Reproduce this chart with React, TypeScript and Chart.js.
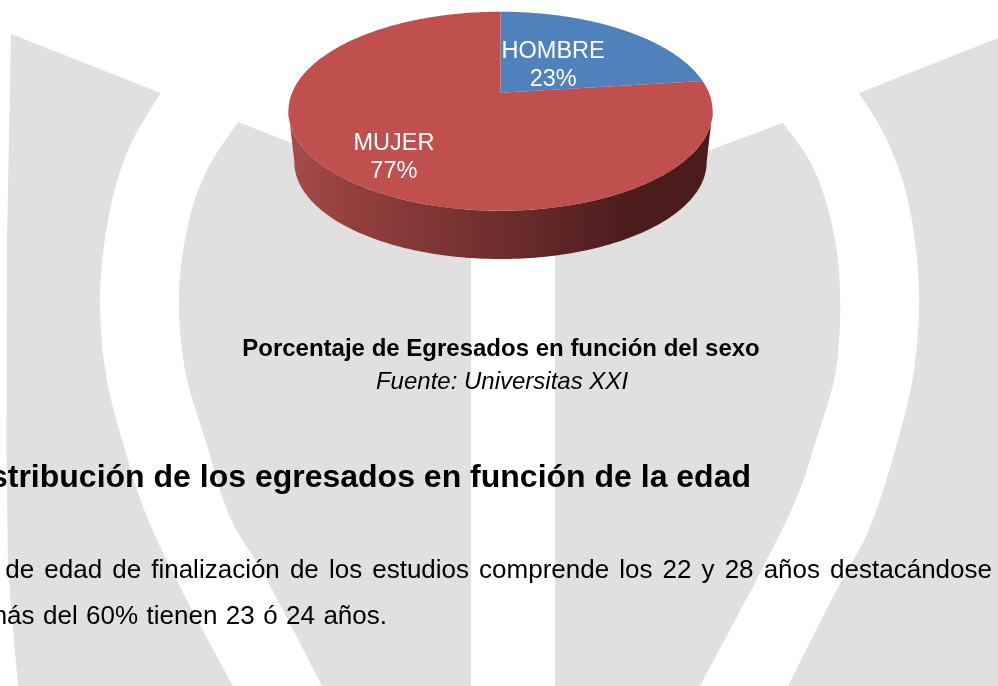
import React, { useEffect, useRef } from "react";
import { Chart, registerables } from "chart.js";

Chart.register(...registerables);

const categories = ["HOMBRE", "MUJER"];
const shares = [23, 77];
const sliceColors = ["#4f81bd", "#c0504d"];
const sideStops: [number, string][] = [
  [0, "#a34b48"],
  [0.15, "#923f3c"],
  [0.5, "#6d2e2d"],
  [0.8, "#4d1d1c"],
  [1, "#4a1c1b"],
];
const labelPlacement = [
  { f: 0.42, dx: -2, dy: 1 },
  { f: 0.78, dx: 14, dy: 2 },
];

const figureTitle = "Porcentaje de Egresados en función del sexo";
const figureSource = "Fuente: Universitas XXI";
const heading = "stribución de los egresados en función de la edad";
const bodyLineOne = "de edad de finalización de los estudios comprende los 22 y 28 años destacándose";
const bodyLineTwo = "más del 60% tienen 23 ó 24 años.";

const GRAY = "#e0e0e0";
const P = { x0: 500.5, y0: 92.7, a: 208.4, b: 96.07, k: 0.186 };
const LOWER = { scale: 0.972, y0: 144.3 };

function project(theta: number, scale = 1, y0 = P.y0, f = 1) {
  const c = Math.cos(theta) * f;
  const s = Math.sin(theta) * f;
  const d = 1 - P.k * s;
  return { x: P.x0 + (P.a * scale * c) / d, y: y0 + (P.b * scale * s) / d };
}

const perspectivePie = {
  id: "perspectivePie",
  beforeDatasetsDraw(chart: any) {
    const ctx = chart.ctx as CanvasRenderingContext2D;
    const meta = chart.getDatasetMeta(0);
    const frontStart = Math.asin(0.181);
    const frontEnd = Math.PI - frontStart;

    // side wall
    meta.data.forEach((arc: any) => {
      const lo = Math.max(arc.startAngle, frontStart);
      const hi = Math.min(arc.endAngle, frontEnd);
      if (hi <= lo) return;
      const grad = ctx.createLinearGradient(295, 0, 706, 0);
      sideStops.forEach(([o, col]) => grad.addColorStop(o, col));
      ctx.beginPath();
      const n = 160;
      for (let i = 0; i <= n; i++) {
        const t = lo + ((hi - lo) * i) / n;
        const p = project(t);
        i === 0 ? ctx.moveTo(p.x, p.y) : ctx.lineTo(p.x, p.y);
      }
      for (let i = n; i >= 0; i--) {
        const t = lo + ((hi - lo) * i) / n;
        const p = project(t, LOWER.scale, LOWER.y0);
        ctx.lineTo(p.x, p.y);
      }
      ctx.closePath();
      ctx.fillStyle = grad;
      ctx.fill();
    });

    // top face wedges
    meta.data.forEach((arc: any, idx: number) => {
      ctx.beginPath();
      ctx.moveTo(P.x0, P.y0);
      const n = 240;
      for (let i = 0; i <= n; i++) {
        const t = arc.startAngle + ((arc.endAngle - arc.startAngle) * i) / n;
        const p = project(t);
        ctx.lineTo(p.x, p.y);
      }
      ctx.closePath();
      ctx.fillStyle = sliceColors[idx];
      ctx.fill();
    });

    // labels
    ctx.fillStyle = "#ffffff";
    ctx.font = '23.5px "Liberation Sans", Arial, sans-serif';
    ctx.textAlign = "center";
    ctx.textBaseline = "middle";
    meta.data.forEach((arc: any, idx: number) => {
      const mid = (arc.startAngle + arc.endAngle) / 2;
      const place = labelPlacement[idx];
      const p = project(mid, 1, P.y0, place.f);
      ctx.fillText(categories[idx], p.x + place.dx, p.y + place.dy - 14);
      ctx.fillText(`${shares[idx]}%`, p.x + place.dx, p.y + place.dy + 14);
    });
    return false;
  },
};

function smooth(points: number[][]) {
  let d = `M${points[0][0]} ${points[0][1]}`;
  for (let i = 0; i < points.length - 1; i++) {
    const p0 = points[Math.max(i - 1, 0)];
    const p1 = points[i];
    const p2 = points[i + 1];
    const p3 = points[Math.min(i + 2, points.length - 1)];
    d += ` C${p1[0] + (p2[0] - p0[0]) / 6} ${p1[1] + (p2[1] - p0[1]) / 6} ${p2[0] - (p3[0] - p1[0]) / 6} ${p2[1] - (p3[1] - p1[1]) / 6} ${p2[0]} ${p2[1]}`;
  }
  return d;
}

const outerLeftCurve = [[160.7, 93], [128, 150], [109, 215], [100, 295], [106, 375], [125, 450], [147, 517], [180, 587], [233, 686]];
const innerLeftCurve = [[238, 122], [207, 170], [188, 225], [179, 295], [185, 370], [207, 445], [230, 517], [267, 580], [322, 686]];
const innerRightCurve = [[783, 123], [813, 167], [832, 225], [840, 290], [836, 370], [816, 440], [797, 497], [760, 573], [700, 686]];
const outerRightCurve = [[859, 93], [887, 140], [909, 205], [919, 290], [914, 370], [898, 440], [870, 527], [833, 597], [788, 686]];

const Watermark = () => (
  <svg width={998} height={686} style={{ position: "absolute", left: 0, top: 0 }}>
    <g fill={GRAY}>
      <path d={`M11 34 L7 240 L6.5 450 L8 570 L18 686 L233 686 ${smooth([...outerLeftCurve].reverse()).replace(/^M\S+ \S+/, "")} Z`} />
      <path d={`M471 213 L471 686 L322 686 ${smooth([...innerLeftCurve].reverse()).replace(/^M\S+ \S+/, "")} Z`} />
      <path d={`M555 207 L555 686 L700 686 ${smooth([...innerRightCurve].reverse()).replace(/^M\S+ \S+/, "")} Z`} />
      <path d={`M998 38 L998 686 L788 686 ${smooth([...outerRightCurve].reverse()).replace(/^M\S+ \S+/, "")} Z`} />
    </g>
  </svg>
);

const textBase: React.CSSProperties = {
  position: "absolute",
  whiteSpace: "nowrap",
  color: "#000",
  fontFamily: '"Liberation Sans", Arial, sans-serif',
  lineHeight: 1,
  filter: "blur(0.3px)",
};

export default function App() {
  const ref = useRef<HTMLCanvasElement>(null);
  useEffect(() => {
    const chart = new Chart(ref.current!, {
      type: "pie",
      data: {
        labels: categories,
        datasets: [{ data: shares, backgroundColor: sliceColors, borderWidth: 0 }],
      },
      options: {
        responsive: false,
        animation: false,
        plugins: { legend: { display: false }, tooltip: { enabled: false } },
      },
      plugins: [perspectivePie],
    });
    return () => chart.destroy();
  }, []);
  return (
    <div style={{ position: "fixed", left: 0, top: 0, width: 998, height: 686, overflow: "hidden", background: "#fff" }}>
      <Watermark />
      <canvas ref={ref} width={998} height={686} style={{ position: "absolute", left: 0, top: 0 }} />
      <div style={{ ...textBase, left: 0, width: 1002, top: 336, textAlign: "center", fontSize: 24, fontWeight: 700 }}>{figureTitle}</div>
      <div style={{ ...textBase, left: 0, width: 1004, top: 369, textAlign: "center", fontSize: 24, fontStyle: "italic" }}>{figureSource}</div>
      <div style={{ ...textBase, right: 247, top: 460, fontSize: 32, fontWeight: 700 }}>{heading}</div>
      <div style={{ ...textBase, right: 6, top: 556, fontSize: 26, wordSpacing: 2.85 }}>{bodyLineOne}</div>
      <div style={{ ...textBase, right: 611, top: 602, fontSize: 26, wordSpacing: 1.2 }}>{bodyLineTwo}</div>
    </div>
  );
}
